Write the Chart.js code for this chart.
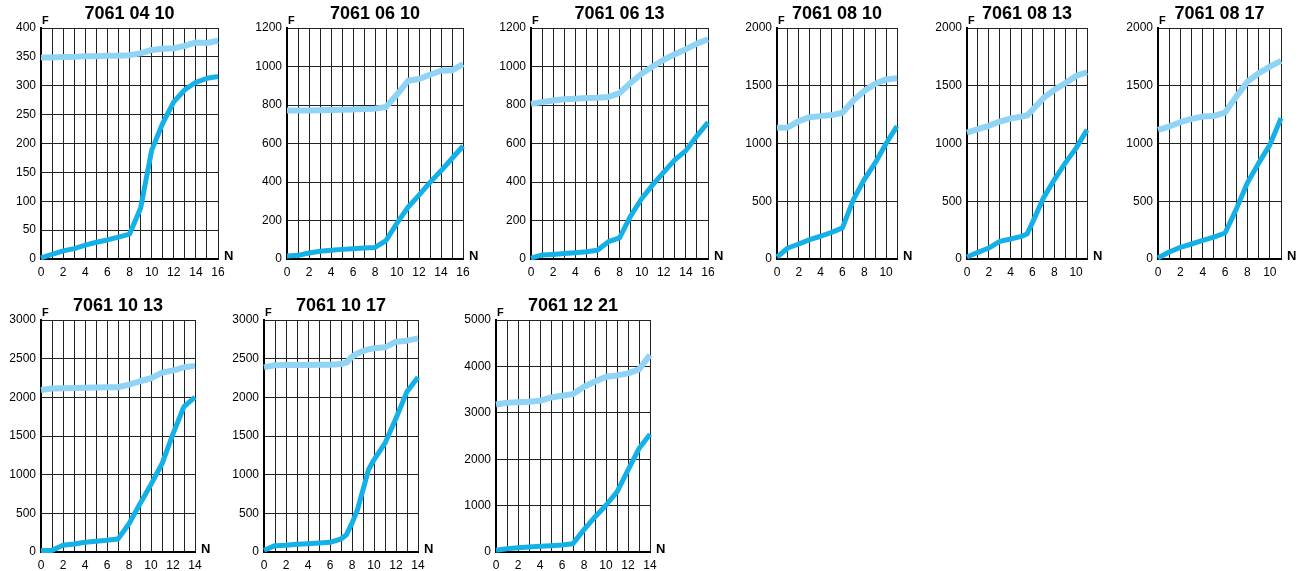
<!DOCTYPE html>
<html>
<head>
<meta charset="utf-8">
<script src="https://cdn.jsdelivr.net/npm/chart.js@4.4.1/dist/chart.umd.min.js"></script>
<style>
html,body{margin:0;padding:0;background:#fff;overflow:hidden;width:1298px;height:571px;}
canvas{position:absolute;}
</style>
</head>
<body>
<script>
// ---------- data ----------
const titles = ['7061 04 10','7061 06 10','7061 06 13','7061 08 10','7061 08 13','7061 08 17','7061 10 13','7061 10 17','7061 12 21'];

const p1N = [0,1,2,3,4,5,6,7,8,9,10,11,12,13,14,15,16];
const p1Upper = [349,349,350,350,351,351,352,352,353,356,362,364,365,369,375,374,378];
const p1Lower = [2,8,14,18,24,29,33,38,43,88,188,235,272,293,306,313,316];

const p2N = [0,1,2,3,4,5,6,7,8,9,10,11,12,13,14,15,16];
const p2Upper = [771,771,772,773,774,775,777,779,781,790,854,926,935,957,978,980,1012];
const p2Lower = [15,19,31,40,45,50,53,57,60,96,186,269,332,398,458,522,587];

const p3N = [0,1,2,3,4,5,6,7,8,9,10,11,12,13,14,15,16];
const p3Upper = [806,815,823,830,833,836,838,842,862,914,962,1000,1035,1064,1090,1119,1142];
const p3Lower = [5,21,24,28,33,38,45,90,110,223,313,385,451,515,563,640,710];

const p4N = [0,1,2,3,4,5,6,7,8,9,10,11];
const p4Upper = [1136,1139,1194,1228,1237,1246,1266,1373,1454,1517,1555,1564];
const p4Lower = [17,95,130,168,197,231,269,514,688,832,1000,1150];

const p5N = [0,1,2,3,4,5,5.5,6,7,8,9,10,11];
const p5Upper = [1095,1124,1153,1190,1216,1233,1242,1291,1392,1464,1522,1585,1617];
const p5Lower = [17,58,95,153,173,196,216,315,527,686,830,960,1118];

const p6N = [0,1,2,3,4,5,6,7,8,9,10,11];
const p6Upper = [1118,1147,1184,1213,1233,1239,1268,1406,1536,1608,1666,1715];
const p6Lower = [9,61,101,130,161,190,225,432,660,830,988,1219];

const p7N = [0,1,2,3,4,5,6,7,8,9,10,11,12,13,14];
const p7Upper = [2096,2113,2117,2121,2125,2128,2130,2130,2165,2208,2247,2320,2346,2389,2407];
const p7Lower = [21,21,86,103,125,138,151,168,366,624,874,1141,1528,1881,2002];

const p8N = [0,1,2,3,4,5,6,7,7.5,8,8.5,9,9.5,10,11,12,13,14];
const p8Upper = [2388,2414,2418,2418,2418,2420,2422,2431,2449,2526,2568,2599,2620,2634,2647,2720,2733,2763];
const p8Lower = [22,82,86,99,108,116,125,168,224,374,547,805,1063,1192,1407,1730,2074,2259];

const p9N = [0,1,2,3,4,5,6,7,8,9,10,11,12,13,14];
const p9Upper = [3180,3216,3230,3237,3259,3331,3367,3403,3561,3676,3777,3806,3849,3935,4245];
const p9Lower = [36,72,94,108,122,137,151,180,482,755,1007,1295,1763,2230,2540];

const xMaxes = [16,16,16,11,11,11,14,14,14];
const yMaxes = [400,1200,1200,2000,2000,2000,3000,3000,5000];
const ySteps = [50,200,200,500,500,500,500,500,1000];

const seriesN = [p1N,p2N,p3N,p4N,p5N,p6N,p7N,p8N,p9N];
const seriesUpper = [p1Upper,p2Upper,p3Upper,p4Upper,p5Upper,p6Upper,p7Upper,p8Upper,p9Upper];
const seriesLower = [p1Lower,p2Lower,p3Lower,p4Lower,p5Lower,p6Lower,p7Lower,p8Lower,p9Lower];

// ---------- layout (plot-area boxes) ----------
const boxes = [
  {l:41,  t:28,  w:177, h:231},
  {l:287, t:28,  w:176, h:231},
  {l:531, t:28,  w:177, h:231},
  {l:777, t:28,  w:120, h:231},
  {l:967, t:28,  w:120, h:231},
  {l:1158,t:28,  w:123, h:231},
  {l:41,  t:320, w:154, h:232},
  {l:264, t:320, w:154, h:232},
  {l:496, t:320, w:154, h:232}
];
const YW = 40, TP = 30, RP = 24, XH = 22;
const FONT = "'Liberation Sans', Arial, Helvetica, sans-serif";
const DARK = '#14b0e8';
const LIGHT = '#8fd4f5';
const GRID = '#222';

const textPlugin = {
  id: 'panelText',
  afterDraw(chart, args, opts) {
    const ctx = chart.ctx, a = chart.chartArea;
    ctx.save();
    ctx.fillStyle = '#000';
    ctx.textAlign = 'center';
    ctx.textBaseline = 'middle';
    ctx.font = 'bold 18px ' + FONT;
    ctx.fillText(opts.title, (a.left + a.right) / 2, a.top - 14);
    ctx.textAlign = 'left';
    ctx.font = 'bold 11px ' + FONT;
    ctx.fillText('F', a.left + 1, a.top - 7);
    ctx.font = 'bold 13px ' + FONT;
    ctx.fillText('N', a.right + 6, a.bottom - 3);
    ctx.restore();
  }
};

boxes.forEach((b, i) => {
  const cv = document.createElement('canvas');
  const W = YW + b.w + RP, H = TP + b.h + XH;
  cv.width = W; cv.height = H;
  cv.style.width = W + 'px'; cv.style.height = H + 'px';
  cv.style.left = (b.l - YW) + 'px';
  cv.style.top = (b.t - TP) + 'px';
  document.body.appendChild(cv);

  const xs = seriesN[i];
  const up = xs.map((x, k) => ({x: x, y: seriesUpper[i][k]}));
  const lo = xs.map((x, k) => ({x: x, y: seriesLower[i][k]}));

  new Chart(cv, {
    type: 'line',
    data: {
      datasets: [
        {data: up, borderColor: LIGHT, borderWidth: 6, pointRadius: 0, tension: 0, borderJoinStyle: 'round', borderCapStyle: 'butt', clip: 6},
        {data: lo, borderColor: DARK, borderWidth: 5, pointRadius: 0, tension: 0, borderJoinStyle: 'round', borderCapStyle: 'butt', clip: 6}
      ]
    },
    options: {
      responsive: false,
      animation: false,
      devicePixelRatio: 1,
      events: [],
      layout: {padding: {top: TP, right: RP, left: 0, bottom: 0}},
      plugins: {legend: {display: false}, tooltip: {enabled: false}, title: {display: false}, panelText: {title: titles[i]}},
      scales: {
        x: {
          type: 'linear', min: 0, max: xMaxes[i],
          afterFit: s => { s.height = XH; },
          grid: {color: GRID, lineWidth: 1, drawTicks: false},
          border: {color: '#000', width: 2},
          ticks: {
            stepSize: 1, autoSkip: false, maxRotation: 0, padding: 6,
            color: '#000', font: {family: FONT, size: 12},
            callback: v => (v % 2 === 0 ? String(v) : '')
          }
        },
        y: {
          type: 'linear', min: 0, max: yMaxes[i],
          afterFit: s => { s.width = YW; },
          grid: {color: GRID, lineWidth: 1, drawTicks: false},
          border: {color: '#000', width: 2},
          ticks: {
            stepSize: ySteps[i], autoSkip: false, padding: 5,
            color: '#000', font: {family: FONT, size: 12},
            callback: v => String(v)
          }
        }
      }
    },
    plugins: [textPlugin]
  });
});
</script>
</body>
</html>
